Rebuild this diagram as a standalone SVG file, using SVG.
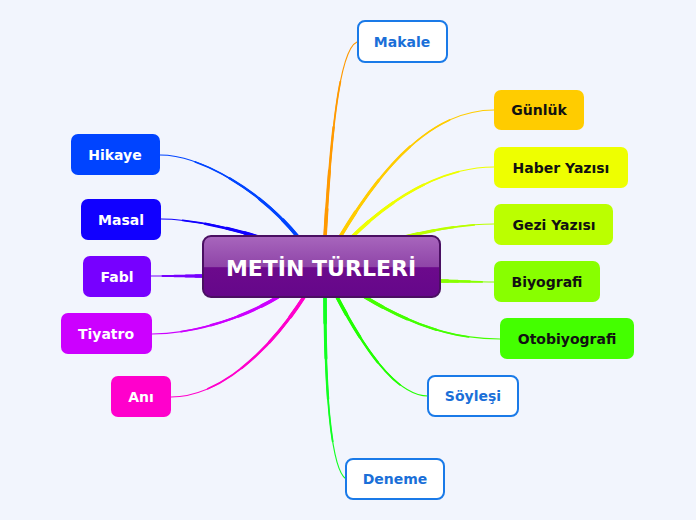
<svg xmlns="http://www.w3.org/2000/svg" width="696" height="520" viewBox="0 0 696 520">
<defs>
<linearGradient id="cg" x1="0" y1="0" x2="0" y2="1">
<stop offset="0" stop-color="#a866bd"/>
<stop offset="0.5" stop-color="#8f45a8"/>
<stop offset="0.52" stop-color="#6c0a8c"/>
<stop offset="1" stop-color="#65078a"/>
</linearGradient>
<style>
.t{font-family:"DejaVu Sans","Verdana",sans-serif;font-weight:bold;font-size:14px;text-anchor:middle;dominant-baseline:central}
.w{fill:#ffffff}.k{fill:#111111}.b{fill:#1a6fd8}
.ob{fill:#ffffff;stroke:#1a7ae8;stroke-width:2}
#connectors use{fill:none;stroke-linecap:round}
.s1{stroke-width:1.2}
.s2{stroke-width:1.8;stroke-dasharray:78 200}
.s3{stroke-width:2.4;stroke-dasharray:55 200}
.s4{stroke-width:3.0;stroke-dasharray:33 200}
.s5{stroke-width:3.6;stroke-dasharray:14 200}
</style>
<path id="p1" pathLength="100" d="M325,237 C330,150 338,50 357,42"/>
<path id="p2" pathLength="100" d="M340,237 C380,170 430,110 494,110"/>
<path id="p3" pathLength="100" d="M352,237 C400,190 450,167 494,167"/>
<path id="p4" pathLength="100" d="M405,237 C440,228 470,224 494,224"/>
<path id="p5" pathLength="100" d="M440,281 C460,281 475,282 494,282"/>
<path id="p6" pathLength="100" d="M365,297 C420,330 460,339 500,339"/>
<path id="p7" pathLength="100" d="M337,297 C370,360 400,396 428,396"/>
<path id="p8" pathLength="100" d="M325,297 C325,400 332,470 346,479"/>
<path id="p9" pathLength="100" d="M298,237 C260,190 200,155 160,155"/>
<path id="p10" pathLength="100" d="M258,237 C230,228 190,219 161,219"/>
<path id="p11" pathLength="100" d="M203,276 C185,276 165,276 151,276"/>
<path id="p12" pathLength="100" d="M278,297 C240,320 190,334 152,334"/>
<path id="p13" pathLength="100" d="M304,297 C270,350 220,397 171,397"/>
</defs>
<rect width="696" height="520" fill="#f2f5fd"/>
<g id="connectors">
<g stroke="#ff9900"><use href="#p1" class="s1"/><use href="#p1" class="s2"/><use href="#p1" class="s3"/><use href="#p1" class="s4"/><use href="#p1" class="s5"/></g>
<g stroke="#ffcc00"><use href="#p2" class="s1"/><use href="#p2" class="s2"/><use href="#p2" class="s3"/><use href="#p2" class="s4"/><use href="#p2" class="s5"/></g>
<g stroke="#eeff00"><use href="#p3" class="s1"/><use href="#p3" class="s2"/><use href="#p3" class="s3"/><use href="#p3" class="s4"/><use href="#p3" class="s5"/></g>
<g stroke="#bbff00"><use href="#p4" class="s1"/><use href="#p4" class="s2"/><use href="#p4" class="s3"/><use href="#p4" class="s4"/><use href="#p4" class="s5"/></g>
<g stroke="#88ff00"><use href="#p5" class="s1"/><use href="#p5" class="s2"/><use href="#p5" class="s3"/><use href="#p5" class="s4"/><use href="#p5" class="s5"/></g>
<g stroke="#44ff00"><use href="#p6" class="s1"/><use href="#p6" class="s2"/><use href="#p6" class="s3"/><use href="#p6" class="s4"/><use href="#p6" class="s5"/></g>
<g stroke="#22ff00"><use href="#p7" class="s1"/><use href="#p7" class="s2"/><use href="#p7" class="s3"/><use href="#p7" class="s4"/><use href="#p7" class="s5"/></g>
<g stroke="#11ff22"><use href="#p8" class="s1"/><use href="#p8" class="s2"/><use href="#p8" class="s3"/><use href="#p8" class="s4"/><use href="#p8" class="s5"/></g>
<g stroke="#0044ff"><use href="#p9" class="s1"/><use href="#p9" class="s2"/><use href="#p9" class="s3"/><use href="#p9" class="s4"/><use href="#p9" class="s5"/></g>
<g stroke="#1100ff"><use href="#p10" class="s1"/><use href="#p10" class="s2"/><use href="#p10" class="s3"/><use href="#p10" class="s4"/><use href="#p10" class="s5"/></g>
<g stroke="#7700ff"><use href="#p11" class="s1"/><use href="#p11" class="s2"/><use href="#p11" class="s3"/><use href="#p11" class="s4"/><use href="#p11" class="s5"/></g>
<g stroke="#cc00ff"><use href="#p12" class="s1"/><use href="#p12" class="s2"/><use href="#p12" class="s3"/><use href="#p12" class="s4"/><use href="#p12" class="s5"/></g>
<g stroke="#ff00cc"><use href="#p13" class="s1"/><use href="#p13" class="s2"/><use href="#p13" class="s3"/><use href="#p13" class="s4"/><use href="#p13" class="s5"/></g>
</g>
<g id="center">
<rect x="203" y="236" width="237" height="61" rx="8" fill="url(#cg)" stroke="#4a0f62" stroke-width="2"/>
<text x="321" y="268" class="t w" style="font-size:22px">METİN TÜRLERİ</text>
</g>
<g id="makale"><rect x="358" y="21" width="89" height="41" rx="7" class="ob"/><text x="402" y="42" class="t b">Makale</text></g>
<g id="gunluk"><rect x="494" y="90" width="90" height="40" rx="7" fill="#ffcc00"/><text x="539" y="110" class="t k">Günlük</text></g>
<g id="haber"><rect x="494" y="147" width="134" height="41" rx="7" fill="#eeff00"/><text x="561" y="168" class="t k">Haber Yazısı</text></g>
<g id="gezi"><rect x="494" y="204" width="119" height="41" rx="7" fill="#bbff00"/><text x="554" y="225" class="t k">Gezi Yazısı</text></g>
<g id="biyografi"><rect x="494" y="261" width="106" height="41" rx="7" fill="#88ff00"/><text x="547" y="282" class="t k">Biyografi</text></g>
<g id="otobiyografi"><rect x="500" y="318" width="134" height="41" rx="7" fill="#44ff00"/><text x="567" y="339" class="t k">Otobiyografi</text></g>
<g id="soylesi"><rect x="428" y="376" width="90" height="40" rx="7" class="ob"/><text x="473" y="396" class="t b">Söyleşi</text></g>
<g id="deneme"><rect x="346" y="459" width="98" height="40" rx="7" class="ob"/><text x="395" y="479" class="t b">Deneme</text></g>
<g id="hikaye"><rect x="71" y="134" width="89" height="41" rx="7" fill="#0044ff"/><text x="115" y="155" class="t w">Hikaye</text></g>
<g id="masal"><rect x="81" y="199" width="80" height="41" rx="7" fill="#1100ff"/><text x="121" y="220" class="t w">Masal</text></g>
<g id="fabl"><rect x="83" y="256" width="68" height="41" rx="7" fill="#7700ff"/><text x="117" y="277" class="t w">Fabl</text></g>
<g id="tiyatro"><rect x="61" y="313" width="91" height="41" rx="7" fill="#cc00ff"/><text x="106" y="334" class="t w">Tiyatro</text></g>
<g id="ani"><rect x="111" y="376" width="60" height="41" rx="7" fill="#ff00cc"/><text x="141" y="397" class="t w">Anı</text></g>
</svg>
